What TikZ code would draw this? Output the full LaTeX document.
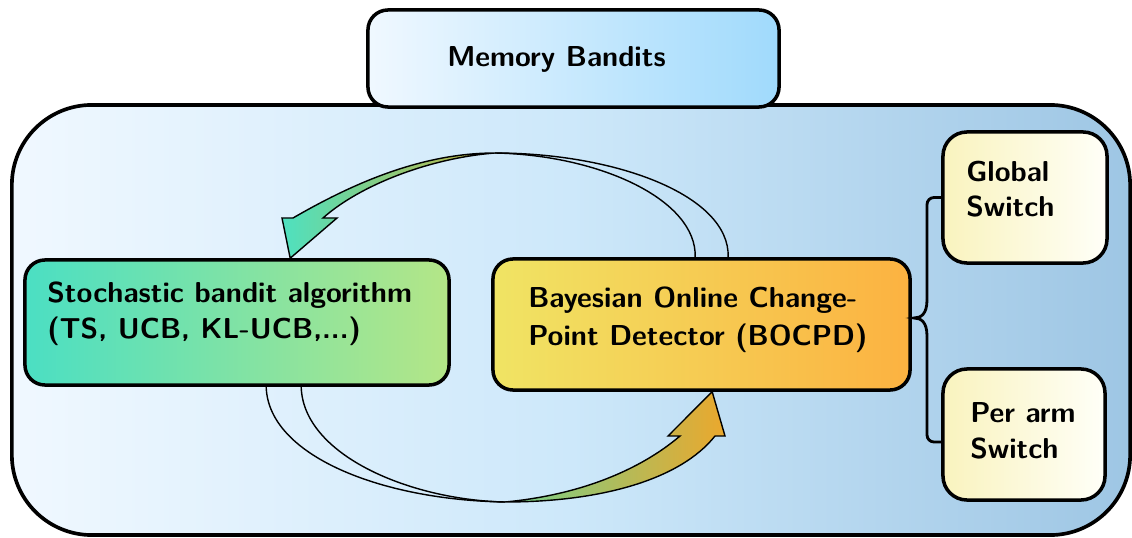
\documentclass[tikz,border=0pt]{standalone}
\usetikzlibrary{calc}
\definecolor{contL}{RGB}{240,248,255}
\definecolor{contM}{RGB}{205,232,250}
\definecolor{contR}{RGB}{158,198,228}
\definecolor{mbL}{RGB}{240,248,255}
\definecolor{mbR}{RGB}{160,218,252}
\definecolor{stL}{RGB}{75,223,195}
\definecolor{stR}{RGB}{180,230,135}
\definecolor{boL}{RGB}{240,228,100}
\definecolor{boR}{RGB}{252,178,65}
\definecolor{swL}{RGB}{249,243,190}
\definecolor{swR}{RGB}{255,255,248}
\definecolor{arTeal}{RGB}{78,225,192}
\definecolor{arOlive}{RGB}{200,180,60}
\definecolor{arGreen}{RGB}{115,208,140}
\definecolor{arOrange}{RGB}{235,168,45}
\begin{document}
\begin{tikzpicture}[x=0.025cm,y=-0.025cm,
  box/.style={draw, line width=2.5pt, rounded corners=0.5cm, inner sep=0pt},
  txt/.style={font=\fontsize{20.5}{25.5}\selectfont\sffamily\bfseries, align=left, inner sep=0pt, anchor=base west},
  tail/.style={draw, line width=1pt},
  head/.style={draw, line width=1pt, line join=miter},
  bracestyle/.style={draw, line width=2pt}]
\useasboundingbox (0,0) rectangle (1132,538);

% container
\node[box, line width=2.6pt, rounded corners=2cm, minimum width=27.95cm, minimum height=10.75cm,
  left color=contL, right color=contR, middle color=contM] (container) at (571,320) {};

% title
\node[box, minimum width=10.275cm, minimum height=2.425cm, left color=mbL, right color=mbR] (mb) at (573.5,58.5) {};
\node[txt] (mbtext) at (447,67) {Memory Bandits};

% stochastic bandit box
\node[box, minimum width=10.6cm, minimum height=3.125cm, left color=stL, right color=stR] (stoch) at (237,322.5) {};
\node[txt] (stochtext) at (47,338) {Stochastic bandit algorithm\\(TS, UCB, KL-UCB,...)};

% BOCPD box
\node[box, minimum width=10.425cm, minimum height=3.275cm, left color=boL, right color=boR] (bocpd) at (701.5,324.5) {};
\node[txt, font=\fontsize{20.5}{27}\selectfont\sffamily\bfseries] (bocpdtext) at (528,345) {Bayesian Online Change-\\Point Detector (BOCPD)};

% switch boxes
\node[box, rounded corners=0.6cm, minimum width=4.1cm, minimum height=3.275cm, left color=swL, right color=swR] (global) at (1025,197.5) {};
\node[txt] (globaltext) at (966,217) {Global\\Switch};
\node[box, rounded corners=0.6cm, minimum width=4.05cm, minimum height=3.275cm, left color=swL, right color=swR] (perarm) at (1024,434.5) {};
\node[txt] (perarmtext) at (970,458) {Per arm\\Switch};

% brace
\coordinate (bracebot) at ($(perarm.west)+(0,7.5)$);
\draw[bracestyle, rounded corners=5pt] (global.west) -- (927,197.5) -- (927,300);
\draw[bracestyle] (927,300) .. controls (927,314) and (921,318) .. (914,318)
  .. controls (921,318) and (927,322) .. (927,336);
\draw[bracestyle, rounded corners=5pt] (927,336) -- (927,442) -- (bracebot);

% top arrow (BOCPD -> stochastic)
\coordinate (tA) at ($(bocpd.north west)+(204,0)$);
\coordinate (tB) at ($(bocpd.north west)+(237,0)$);
\coordinate (tTop) at (495,153);
\coordinate (tTip) at ($(stoch.north west)+(267,0)$);
\draw[tail] (tB) .. controls (730,195) and (615,153) .. (tTop);
\draw[tail] (tA) .. controls (697,200) and (600,155) .. (tTop);
\shade[head, left color=arTeal, right color=arOlive]
  (tTop) .. controls (420,153) and (350,185) .. (293,218) -- (282,218) -- (tTip)
  -- (337,218) -- (323,218) .. controls (360,185) and (430,158) .. (tTop) -- cycle;

% bottom arrow (stochastic -> BOCPD)
\coordinate (bA) at ($(stoch.south west)+(243,0)$);
\coordinate (bB) at ($(stoch.south west)+(278,0)$);
\coordinate (bBot) at (505,502);
\coordinate (bTip) at ($(bocpd.south west)+(221,0)$);
\draw[tail] (bA) .. controls (268,455) and (380,500) .. (bBot);
\draw[tail] (bB) .. controls (303,455) and (410,500) .. (bBot);
\shade[head, left color=arGreen, right color=arOrange]
  (bBot) .. controls (580,495) and (640,470) .. (680,436) -- (668,436) -- (bTip)
  -- (725,436) -- (715,436) .. controls (680,480) and (600,502) .. (bBot) -- cycle;
\end{tikzpicture}
\end{document}
